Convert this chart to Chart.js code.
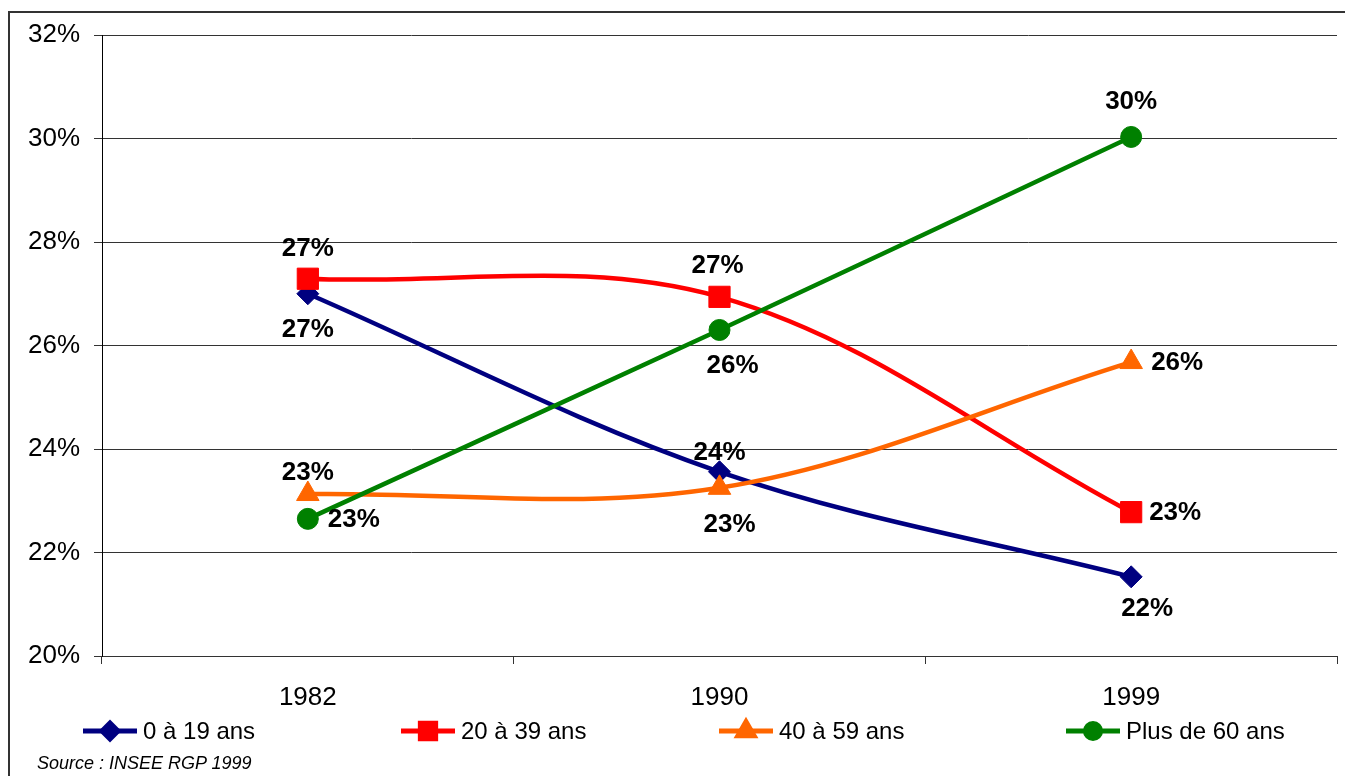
<!DOCTYPE html>
<html>
<head>
<meta charset="utf-8">
<script src="https://cdn.jsdelivr.net/npm/chart.js@4/dist/chart.umd.min.js"></script>
<style>
  html, body { margin: 0; padding: 0; background: #fff; }
  .wrap { position: relative; width: 1345px; height: 776px; overflow: hidden; }
  .frame { position: absolute; left: 8px; top: 11px; width: 1400px; height: 800px;
           border-top: 2px solid #333; border-left: 2px solid #333; }
  canvas { position: absolute; left: 0; top: 0; }
  .source { position: absolute; left: 37px; top: 752px; font: italic 18px "Liberation Sans", Arial, sans-serif;
            line-height: 22px; color: #000; }
</style>
</head>
<body>
<div class="wrap">
  <div class="frame"></div>
  <canvas id="chart" width="1353" height="776"></canvas>
  <div class="source">Source&nbsp;: INSEE RGP 1999</div>
</div>
<script>
// données (en %)
const years = ['1982', '1990', '1999'];
const seriesNames = ['0 à 19 ans', '20 à 39 ans', '40 à 59 ans', 'Plus de 60 ans'];
const age0_19 = [27.0, 23.56, 21.53];
const age20_39 = [27.29, 26.94, 22.78];
const age40_59 = [23.13, 23.25, 25.68];
const age60plus = [22.65, 26.3, 30.03];
const yTicks = [20, 22, 24, 26, 28, 30, 32];

// placement des étiquettes [dx, dy] par point
const labelOffsets = [
    [[0, 35], [0, -20], [16, 31]],
    [[0, -31], [-2, -32], [44, 0]],
    [[0, -22], [10, 36], [46, 0]],
    [[46, 0], [13, 35], [0, -36]]
];

const legendX = [83, 401, 719, 1066];
const legendY = 731;

const FONT = '"Liberation Sans", Arial, sans-serif';

function makeSet(i, data, color, style, radius){
    return {
        label: seriesNames[i],
        data: data,
        borderColor: color,
        backgroundColor: color,
        borderWidth: 4.5,
        pointStyle: style,
        pointRadius: radius,
        pointHoverRadius: radius,
        pointBorderWidth: 1,
        pointBorderColor: color,
        pointBackgroundColor: color,
        tension: 0.35,
        order: 4 - i
    };
}

const dataLabels = {
    id: 'dataLabels',
    afterDatasetsDraw(chart){
        const ctx = chart.ctx;
        ctx.save();
        ctx.font = 'bold 26px ' + FONT;
        ctx.fillStyle = '#000';
        ctx.textAlign = 'center';
        ctx.textBaseline = 'middle';
        chart.data.datasets.forEach((ds, i) => {
            const meta = chart.getDatasetMeta(i);
            meta.data.forEach((pt, j) => {
                const off = labelOffsets[i][j];
                ctx.fillText(Math.round(ds.data[j]) + '%', pt.x + off[0], pt.y + off[1] + 1);
            });
        });
        ctx.restore();
    }
};

const bottomLegend = {
    id: 'bottomLegend',
    afterDraw(chart){
        const ctx = chart.ctx;
        ctx.save();
        chart.data.datasets.forEach((ds, i) => {
            const x = legendX[i];
            ctx.strokeStyle = ds.borderColor;
            ctx.lineWidth = 5;
            ctx.beginPath();
            ctx.moveTo(x, legendY);
            ctx.lineTo(x + 54, legendY);
            ctx.stroke();
            ctx.fillStyle = ds.backgroundColor;
            Chart.helpers.drawPoint(ctx, {
                pointStyle: ds.pointStyle,
                radius: ds.pointRadius * 0.72,
                borderWidth: 1,
                rotation: 0
            }, x + 27, legendY);
            ctx.fillStyle = '#000';
            ctx.font = '24px ' + FONT;
            ctx.textAlign = 'left';
            ctx.textBaseline = 'middle';
            ctx.fillText(ds.label, x + 60, legendY + 1);
        });
        ctx.restore();
    }
};

new Chart(document.getElementById('chart'), {
    type: 'line',
    data: {
        labels: years,
        datasets: [
            makeSet(0, age0_19, '#000080', 'rectRot', 11),
            makeSet(1, age20_39, '#ff0000', 'rect', 15),
            makeSet(2, age40_59, '#ff6600', 'triangle', 13),
            makeSet(3, age60plus, '#008000', 'circle', 10.5)
        ]
    },
    options: {
        responsive: false,
        animation: false,
        layout: { padding: { left: 0, right: 0, top: 35, bottom: 0 } },
        plugins: {
            legend: { display: false },
            tooltip: { enabled: false }
        },
        scales: {
            x: {
                offset: true,
                grid: { offset: true, drawOnChartArea: false, color: '#333', tickLength: 8 },
                border: { color: '#333', width: 1 },
                ticks: { color: '#000', font: { family: FONT, size: 26 }, padding: 18 },
                afterFit(scale){
                    scale.height = 120;
                    scale.paddingLeft = 0;
                    scale.paddingRight = 0;
                }
            },
            y: {
                min: 20,
                max: 32,
                afterBuildTicks(scale){ scale.ticks = yTicks.map(v => ({ value: v })); },
                grid: { color: '#333', lineWidth: 1, tickLength: 8 },
                border: { color: '#000', width: 1 },
                ticks: { color: '#000', font: { family: FONT, size: 26 }, padding: 14,
                         callback: v => v + '%' },
                afterFit(scale){ scale.width = 102; }
            }
        }
    },
    plugins: [dataLabels, bottomLegend]
});
</script>
</body>
</html>
